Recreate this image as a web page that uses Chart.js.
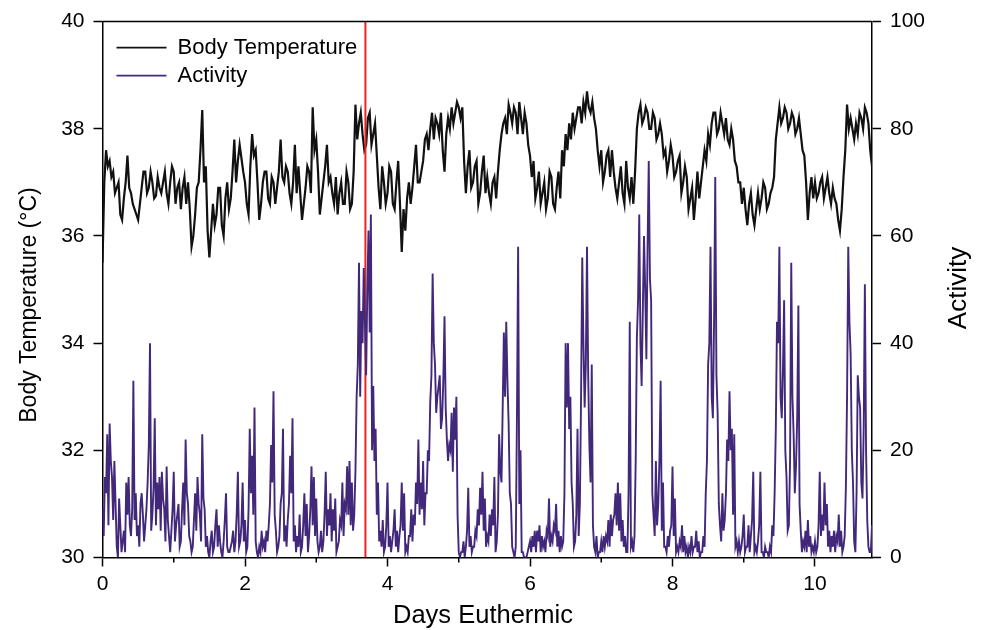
<!DOCTYPE html>
<html>
<head>
<meta charset="utf-8">
<script src="https://cdn.jsdelivr.net/npm/chart.js@4.4.1/dist/chart.umd.min.js"></script>
<style>
    html, body { margin: 0; padding: 0; background: #fff; }
</style>
</head>
<body>
<canvas id="myChart" width="984" height="630"></canvas>
<script>
// body temperature (deg C), one reading every 0.05 day
const tempStep = 0.05;
const bodyTemp = [
    35.5, 37.6, 37.4, 37.2, 36.9, 36.4, 36.7, 37.5, 36.8, 36.5, 36.3, 36.9, 37.2, 36.9, 37.0, 36.75, 36.9, 37.0, 36.8, 37.0,
    37.2, 36.9, 36.5, 37.1, 37.0, 35.8, 36.4, 37.0, 38.35, 37.3, 35.6, 36.6, 36.4, 36.9, 36.0, 37.0, 36.7, 37.8, 37.4, 37.45,
    37.0, 36.4, 37.9, 37.6, 36.3, 37.0, 37.2, 36.6, 37.0, 36.9, 37.8, 37.0, 37.2, 36.6, 37.7, 37.3, 36.3, 36.9, 37.2, 38.4,
    37.8, 36.4, 37.0, 37.7, 37.1, 36.6, 36.4, 37.0, 36.6, 37.0, 36.6, 38.45, 38.1, 37.9, 37.7, 38.3, 37.9, 37.5, 36.5, 37.0,
    36.8, 37.2, 36.5, 37.4, 35.7, 36.1, 37.0, 36.9, 37.7, 37.0, 37.4, 37.9, 38.0, 37.8, 38.1, 38.3, 37.2, 38.2, 38.4, 38.3,
    38.4, 38.4, 36.8, 37.6, 37.0, 37.4, 36.8, 37.5, 37.1, 36.6, 37.1, 37.2, 37.9, 38.2, 38.45, 38.1, 38.3, 38.5, 37.9, 38.1,
    37.5, 37.4, 36.9, 36.6, 37.0, 36.7, 37.1, 36.5, 37.2, 37.6, 37.9, 38.1, 38.3, 38.2, 38.4, 38.5, 38.7, 38.3, 38.2, 37.6,
    37.6, 37.2, 37.6, 37.6, 36.9, 37.0, 36.8, 37.4, 36.7, 36.6, 38.0, 38.45, 38.2, 38.3, 38.0, 38.2, 37.9, 37.9, 37.6, 37.4,
    37.5, 37.2, 37.5, 37.0, 37.1, 36.7, 36.3, 37.2, 37.0, 37.6, 37.9, 38.1, 38.3, 38.0, 38.1, 38.2, 37.7, 37.8, 37.3, 37.0,
    36.9, 36.2, 36.8, 36.2, 36.8, 36.7, 36.9, 36.6, 36.9, 37.8, 38.4, 38.2, 38.3, 38.1, 38.2, 38.0, 37.9, 37.5, 36.3, 37.1,
    37.0, 36.8, 37.1, 36.9, 36.8, 36.9, 36.6, 36.1, 37.1, 38.45, 38.2, 37.8, 37.9, 38.2, 38.4, 38.1, 37.3
];
// readings half way between the ones above (the other edge of the trace band)
const bodyTempMid = [
    37.0, 37.3, 37.1, 36.8, 37.0, 36.3, 37.0, 36.9, 36.6, 36.4, 36.6, 37.2, 36.8, 37.2, 36.7, 37.1, 36.8, 37.2, 36.6, 37.3,
    36.6, 37.0, 36.9, 36.6, 36.5, 36.0, 36.9, 37.6, 37.0, 36.1, 36.1, 36.2, 36.9, 36.2, 36.7, 36.5, 37.2, 37.0, 37.7, 37.2,
    36.6, 37.3, 37.5, 37.0, 36.6, 37.2, 36.7, 37.1, 36.6, 37.2, 37.1, 37.3, 36.8, 37.0, 36.8, 36.8, 36.6, 37.3, 36.8, 37.6,
    37.2, 36.7, 37.3, 37.0, 36.8, 37.1, 36.8, 36.6, 37.2, 36.5, 37.2, 37.8, 38.3, 37.6, 38.2, 37.7, 38.1, 36.9, 37.3, 36.6,
    37.3, 36.6, 37.0, 36.6, 36.5, 36.7, 36.6, 37.3, 37.0, 37.2, 37.8, 37.6, 38.3, 38.2, 37.9, 37.6, 37.9, 38.0, 38.1, 38.5,
    38.2, 37.4, 37.3, 36.9, 37.3, 36.6, 37.2, 36.8, 36.8, 37.0, 36.7, 37.6, 38.1, 37.9, 38.3, 38.4, 37.9, 38.2, 38.3, 37.7,
    37.1, 36.7, 37.2, 36.8, 36.5, 37.2, 36.6, 36.9, 36.7, 37.3, 37.6, 37.8, 38.0, 38.4, 38.1, 38.3, 38.4, 38.5, 38.0, 37.3,
    37.0, 37.5, 37.1, 37.2, 36.7, 37.3, 36.6, 36.9, 37.1, 37.2, 38.3, 38.1, 38.4, 38.0, 38.3, 37.8, 38.1, 37.5, 37.2, 37.7,
    37.1, 37.4, 36.8, 37.3, 36.5, 36.9, 36.7, 36.7, 37.3, 37.4, 37.7, 38.3, 37.9, 38.3, 37.9, 37.8, 38.0, 37.4, 37.0, 36.6,
    36.5, 36.6, 36.4, 36.5, 36.5, 37.0, 36.5, 36.8, 37.1, 38.1, 38.1, 38.4, 38.0, 38.3, 37.9, 38.2, 37.6, 37.0, 36.8, 36.7,
    36.7, 37.0, 36.7, 37.1, 36.6, 36.7, 36.3, 36.5, 37.6, 38.0, 38.0, 38.1, 38.3, 38.0, 38.3, 37.6
];

// activity counts, one reading every 1/30 day
const actStep = 1 / 30;
const activity = [
    9, 15, 23, 25, 15, 18, 2, 11, 1, 5, 14, 15, 4, 33, 12, 6, 10, 8, 6, 14, 40, 8, 26, 14, 15, 16, 9, 17, 4, 5,
    16, 6, 10, 3, 14, 22, 10, 3, 2, 12, 15, 8, 23, 9, 4, 0, 5, 2, 9, 6, 1, 3, 12, 1, 2, 5, 3, 16, 3, 14,
    7, 2, 24, 19, 28, 1, 2, 5, 3, 5, 6, 21, 31, 5, 2, 10, 24, 6, 7, 19, 26, 6, 4, 8, 2, 12, 10, 4, 17, 15,
    11, 1, 5, 3, 16, 9, 12, 9, 11, 2, 7, 14, 10, 17, 18, 14, 8, 30, 55, 46, 54, 34, 61, 64, 32, 24, 14, 5, 7, 2,
    14, 4, 3, 9, 5, 4, 14, 12, 2, 4, 9, 8, 14, 22, 14, 18, 12, 20, 29, 53, 36, 30, 34, 26, 45, 22, 21, 27, 28, 30,
    1, 1, 3, 2, 13, 4, 2, 5, 9, 13, 16, 11, 4, 8, 9, 15, 3, 23, 14, 42, 44, 25, 10, 1, 2, 58, 20, 1, 0, 1,
    3, 4, 5, 5, 6, 4, 3, 5, 11, 4, 6, 10, 5, 4, 3, 40, 40, 30, 10, 3, 24, 10, 56, 28, 58, 21, 36, 2, 4, 1,
    3, 4, 4, 7, 8, 7, 12, 14, 12, 7, 4, 1, 44, 3, 4, 41, 64, 32, 60, 37, 74, 48, 8, 18, 10, 33, 14, 2, 4, 5,
    17, 11, 2, 3, 6, 4, 2, 2, 4, 2, 5, 3, 1, 4, 12, 36, 58, 26, 71, 27, 6, 12, 7, 22, 31, 24, 23, 3, 3, 2,
    8, 2, 6, 4, 16, 2, 3, 16, 1, 2, 1, 2, 6, 12, 44, 58, 26, 48, 15, 6, 55, 23, 17, 47, 5, 3, 5, 7, 4, 2,
    3, 2, 16, 8, 14, 10, 5, 4, 5, 4, 8, 5, 2, 13, 58, 38, 14, 1, 34, 28, 11, 51, 7, 1, 6
];
// readings half way between the ones above
const activityMid = [
    4, 12, 6, 18, 7, 10, 0, 6, 3, 1, 8, 6, 9, 7, 4, 2, 12, 3, 9, 21, 5, 13, 6, 9, 5, 11, 3, 7, 1, 9,
    3, 8, 2, 9, 6, 12, 4, 1, 7, 5, 10, 3, 11, 2, 1, 3, 1, 6, 2, 3, 0, 7, 2, 1, 3, 1, 8, 2, 6, 3,
    1, 9, 12, 8, 3, 0, 1, 2, 1, 3, 10, 14, 8, 1, 4, 12, 3, 2, 10, 12, 3, 1, 2, 1, 6, 4, 1, 9, 6, 4,
    3, 2, 1, 8, 4, 6, 3, 5, 1, 3, 6, 4, 9, 8, 6, 5, 16, 36, 30, 40, 44, 50, 42, 20, 18, 8, 3, 2, 1, 6,
    2, 1, 5, 2, 1, 6, 5, 1, 1, 4, 3, 6, 10, 8, 9, 6, 12, 18, 34, 40, 27, 32, 24, 33, 28, 18, 20, 16, 22, 8,
    0, 1, 0, 5, 2, 1, 2, 4, 6, 8, 5, 2, 3, 4, 6, 1, 8, 16, 28, 30, 33, 12, 2, 0, 26, 10, 1, 0, 0, 2,
    1, 2, 1, 3, 1, 2, 1, 4, 2, 3, 5, 2, 1, 2, 12, 28, 24, 14, 2, 8, 4, 30, 40, 36, 34, 14, 6, 1, 0, 1,
    1, 2, 3, 2, 4, 8, 6, 5, 3, 2, 1, 12, 2, 1, 18, 48, 40, 46, 50, 58, 52, 12, 4, 6, 18, 5, 2, 1, 2, 6,
    4, 1, 1, 2, 1, 1, 0, 1, 1, 2, 1, 0, 1, 2, 18, 40, 30, 44, 34, 10, 3, 5, 12, 18, 20, 8, 2, 1, 1, 4,
    1, 2, 1, 7, 1, 1, 6, 1, 0, 1, 0, 1, 4, 24, 40, 30, 35, 20, 5, 18, 30, 12, 26, 10, 1, 2, 1, 2, 1, 1,
    1, 6, 4, 5, 6, 2, 1, 2, 1, 3, 2, 1, 4, 30, 44, 20, 3, 12, 30, 14, 24, 20, 2, 1
];

// start of the marked event (red line), days
const redLineDay = 3.69;

const xTicks = [0, 2, 4, 6, 8, 10];
const xMinorTicks = [1, 3, 5, 7, 9];
const tempTicks = [30, 32, 34, 36, 38, 40];
const actTicks = [0, 20, 40, 60, 80, 100];

const FONT = '"Liberation Sans", Arial, sans-serif';
Chart.defaults.font.family = FONT;
Chart.defaults.color = '#000';

// merge a series with its half-step readings into {x, y} points
function mergeSeries(main, mid, step) {
    let points = [];
    for (let i = 0; i < main.length; i++) {
        points.push({ x: i * step, y: main[i] });
        if (i < mid.length) {
            points.push({ x: (i + 0.5) * step, y: mid[i] });
        }
    }
    return points;
}

function drawText(ctx, text, size, x, y, angle) {
    ctx.save();
    ctx.fillStyle = '#000';
    ctx.font = size + 'px ' + FONT;
    ctx.textAlign = 'center';
    ctx.textBaseline = 'middle';
    ctx.translate(x, y);
    ctx.rotate(angle);
    ctx.fillText(text, 0, 0);
    ctx.restore();
}

// top frame line, minor x ticks, axis titles, legend inside the plot
const decorations = {
    id: 'decorations',
    afterDraw(chart) {
        const ctx = chart.ctx;
        const area = chart.chartArea;
        const xs = chart.scales.x;
        ctx.save();
        ctx.strokeStyle = '#000';
        ctx.lineWidth = 1.5;
        ctx.beginPath();
        ctx.moveTo(area.left, area.top);
        ctx.lineTo(area.right, area.top);
        ctx.stroke();

        ctx.beginPath();
        xMinorTicks.forEach(v => {
            const px = xs.getPixelForValue(v);
            ctx.moveTo(px, area.bottom);
            ctx.lineTo(px, area.bottom + 5);
        });
        ctx.stroke();
        ctx.restore();

        drawText(ctx, 'Days Euthermic', 25.5, 483, 616, 0);
        drawText(ctx, 'Body Temperature (°C)', 23, 29.5, 305, -Math.PI / 2);
        drawText(ctx, 'Activity', 26, 959, 288, -Math.PI / 2);

        // legend
        ctx.save();
        ctx.font = '22px ' + FONT;
        ctx.textAlign = 'left';
        ctx.textBaseline = 'middle';
        let y = area.top + 26;
        chart.data.datasets.forEach(ds => {
            if (!ds.label) return;
            ctx.strokeStyle = ds.borderColor;
            ctx.lineWidth = 1.6;
            ctx.beginPath();
            ctx.moveTo(area.left + 14, y);
            ctx.lineTo(area.left + 64, y);
            ctx.stroke();
            ctx.fillStyle = '#000';
            ctx.fillText(ds.label, area.left + 75, y);
            y += 28;
        });
        ctx.restore();
    }
};

function setTicks(list) {
    return function(scale) {
        scale.ticks = list.map(v => ({ value: v }));
    };
}

const config = {
    type: 'line',
    data: {
        datasets: [{
            label: 'Body Temperature',
            data: mergeSeries(bodyTemp, bodyTempMid, tempStep),
            borderColor: '#111111',
            borderWidth: 2.2,
            yAxisID: 'y',
            order: 3
        }, {
            label: 'Activity',
            data: mergeSeries(activity, activityMid, actStep),
            borderColor: '#42287a',
            borderWidth: 1.9,
            yAxisID: 'y1',
            order: 1
        }, {
            label: '',
            data: [{ x: redLineDay, y: 30 }, { x: redLineDay, y: 40 }],
            borderColor: '#ee2222',
            borderWidth: 2,
            yAxisID: 'y',
            order: 2
        }]
    },
    options: {
        responsive: false,
        animation: false,
        events: [],
        elements: {
            point: { radius: 0 },
            line: { tension: 0, fill: false }
        },
        layout: { padding: { top: 18.5, left: 0, right: 0, bottom: 0 } },
        plugins: {
            legend: { display: false },
            tooltip: { enabled: false }
        },
        scales: {
            x: {
                type: 'linear',
                position: 'bottom',
                min: 0,
                max: 10.8,
                afterBuildTicks: setTicks(xTicks),
                afterFit: s => { s.height = 72.5; },
                grid: { drawOnChartArea: false, tickLength: 9, tickColor: '#000', tickWidth: 1.5 },
                border: { color: '#000', width: 1.5 },
                ticks: { font: { size: 21 }, padding: 5, maxRotation: 0 }
            },
            y: {
                position: 'left',
                min: 30,
                max: 40,
                afterBuildTicks: setTicks(tempTicks),
                afterFit: s => { s.width = 102.5; },
                grid: { drawOnChartArea: false, tickLength: 9, tickColor: '#000', tickWidth: 1.5 },
                border: { color: '#000', width: 1.5 },
                ticks: { font: { size: 21 }, padding: 9 }
            },
            y1: {
                position: 'right',
                min: 0,
                max: 100,
                afterBuildTicks: setTicks(actTicks),
                afterFit: s => { s.width = 112; },
                grid: { drawOnChartArea: false, tickLength: 9, tickColor: '#000', tickWidth: 1.5 },
                border: { color: '#000', width: 1.5 },
                ticks: { font: { size: 21 }, padding: 9 }
            }
        }
    },
    plugins: [decorations]
};

const myChart = new Chart(document.getElementById('myChart'), config);
</script>
</body>
</html>
